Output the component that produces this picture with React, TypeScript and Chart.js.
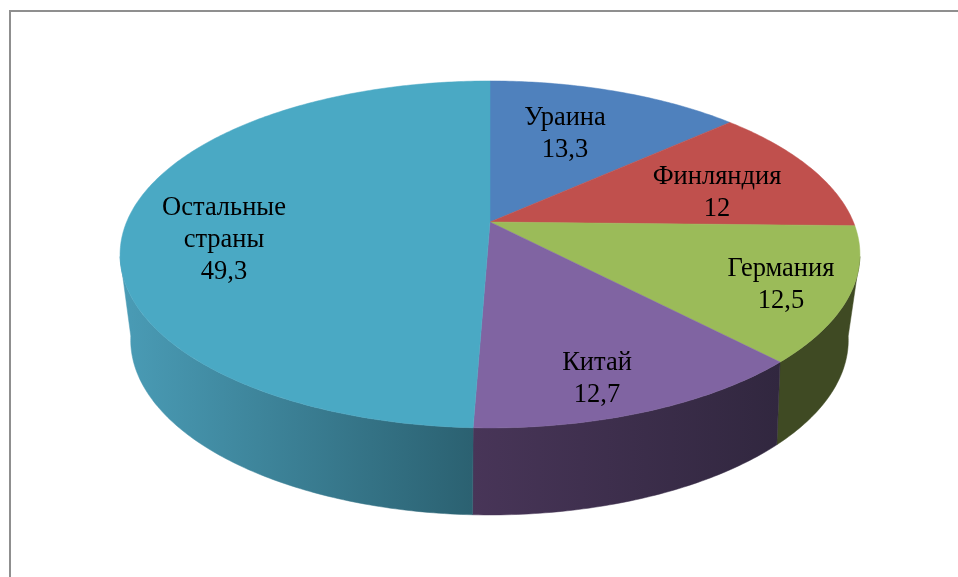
import React, { useEffect, useRef } from "react";
import { Chart, registerables } from "chart.js";

Chart.register(...registerables);

const categories = ["Ураина", "Финляндия", "Германия", "Китай", "Остальные\nстраны"];
const values = [13.3, 12, 12.5, 12.7, 49.3];
const topColors = ["#4f81bd", "#c0504d", "#9bbb59", "#8064a2", "#4aa9c4"];
const wallStartColors = ["#2f4d71", "#73302e", "#3f4a23", "#483558", "#4a9cb6"];
const wallEndColors = ["#2f4d71", "#73302e", "#3f4a23", "#31273f", "#2b6171"];
// label centres on the picture, as [x, y of first line]
const labelCentres = [
  [565, 118],
  [717, 177],
  [781, 269],
  [597, 363],
  [224, 208],
];

const LINE_HEIGHT = 32;
const TOP = { x0: 490, y0: 222, A: 167.4, B: 363.4, k: 0.187 };
const BASE = { x0: 489.5, y0: 301.5, A: 166.5, B: 350, k: 0.22 };
const WALL_MIN_ANGLE = 0.2;
const WALL_MAX_ANGLE = Math.PI - 0.2;

type Disc = typeof TOP;

function project(d: Disc, angle: number) {
  // angle as Chart.js gives it: -PI/2 is the top of the pie
  const u = Math.cos(angle);
  const t = Math.sin(angle);
  const w = 1 - d.k * t;
  return { x: d.x0 + (d.B * u) / w, y: d.y0 + (d.A * t) / w };
}

function rim(d: Disc, a0: number, a1: number) {
  const n = Math.max(2, Math.ceil(Math.abs(a1 - a0) * 80));
  const pts = [];
  for (let i = 0; i <= n; i++) pts.push(project(d, a0 + ((a1 - a0) * i) / n));
  return pts;
}

const pie3d = {
  id: "pie3d",
  beforeDraw(chart: any) {
    const { ctx, width, height } = chart;
    ctx.save();
    ctx.fillStyle = "#ffffff";
    ctx.fillRect(0, 0, width, height);
    ctx.fillStyle = "#8f8f8f";
    ctx.fillRect(9, 10, width - 9, 2);
    ctx.fillRect(9, 10, 2, height - 10);
    ctx.restore();
  },
  beforeDatasetDraw(chart: any) {
    const { ctx } = chart;
    const arcs = chart.getDatasetMeta(0).data;
    ctx.save();
    // side walls: only the part of the rim that faces the viewer
    arcs.forEach((arc: any, i: number) => {
      const a0 = Math.max(arc.startAngle, WALL_MIN_ANGLE);
      const a1 = Math.min(arc.endAngle, WALL_MAX_ANGLE);
      if (a0 >= a1) return;
      const top = rim(TOP, a0, a1);
      const base = rim(BASE, a0, a1).reverse();
      const xs = [...top, ...base].map((p) => p.x);
      const g = ctx.createLinearGradient(Math.min(...xs), 0, Math.max(...xs), 0);
      g.addColorStop(0, wallStartColors[i]);
      g.addColorStop(1, wallEndColors[i]);
      ctx.beginPath();
      [...top, ...base].forEach((p, j) => (j ? ctx.lineTo(p.x, p.y) : ctx.moveTo(p.x, p.y)));
      ctx.closePath();
      ctx.fillStyle = g;
      ctx.strokeStyle = g;
      ctx.lineWidth = 0.5;
      ctx.fill();
      ctx.stroke();
    });
    // top faces
    arcs.forEach((arc: any, i: number) => {
      const pts = rim(TOP, arc.startAngle, arc.endAngle);
      ctx.beginPath();
      ctx.moveTo(TOP.x0, TOP.y0);
      pts.forEach((p) => ctx.lineTo(p.x, p.y));
      ctx.closePath();
      ctx.fillStyle = topColors[i];
      ctx.strokeStyle = topColors[i];
      ctx.lineWidth = 0.5;
      ctx.fill();
      ctx.stroke();
    });
    ctx.restore();
    return false;
  },
  afterDatasetsDraw(chart: any) {
    const { ctx } = chart;
    ctx.save();
    ctx.fillStyle = "#000000";
    ctx.font = '26.5px "Liberation Serif"';
    ctx.textAlign = "center";
    ctx.textBaseline = "middle";
    categories.forEach((name, i) => {
      const lines = [...name.split("\n"), String(values[i]).replace(".", ",")];
      lines.forEach((line, j) => {
        ctx.fillText(line, labelCentres[i][0], labelCentres[i][1] + j * LINE_HEIGHT);
      });
    });
    ctx.restore();
  },
};

export default function App() {
  const ref = useRef<HTMLCanvasElement | null>(null);
  useEffect(() => {
    const chart = new Chart(ref.current as HTMLCanvasElement, {
      type: "pie",
      data: {
        labels: categories,
        datasets: [{ data: values, backgroundColor: topColors, borderWidth: 0 }],
      },
      options: {
        responsive: false,
        animation: false,
        plugins: { legend: { display: false }, tooltip: { enabled: false }, title: { display: false } },
      },
      plugins: [pie3d],
    } as any);
    return () => chart.destroy();
  }, []);
  return (
    <div style={{ position: "fixed", left: 0, top: 0, width: 958, height: 577, overflow: "hidden", background: "#fff" }}>
      <canvas ref={ref} width={958} height={577} style={{ display: "block" }} />
    </div>
  );
}
